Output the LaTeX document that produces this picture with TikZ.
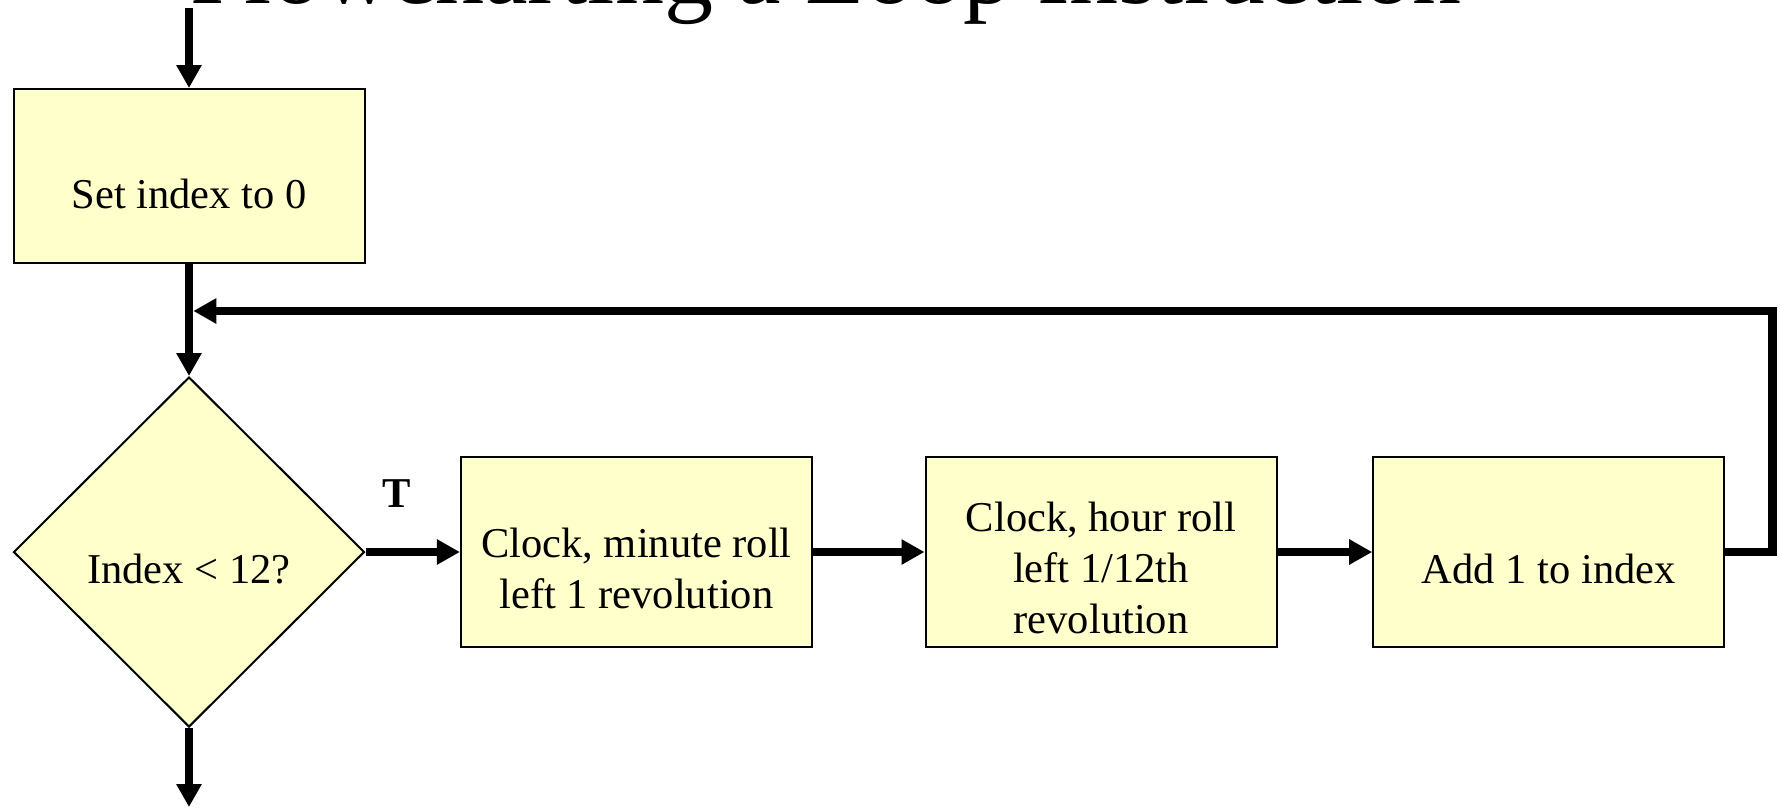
\documentclass[tikz,border=0pt]{standalone}
\usepackage{fontspec}
\setmainfont{Liberation Serif}
\usetikzlibrary{arrows.meta,shapes.geometric,calc}
\definecolor{boxfill}{HTML}{FFFFCC}

\begin{document}
\begin{tikzpicture}[x=1pt,y=-1pt,
  flow/.style={line width=8.5pt, -{Triangle[length=23pt,width=24pt]}},
  boxnode/.style={draw=black, line width=2pt, fill=boxfill, rectangle,
    minimum width=351pt, inner sep=0pt},
  decision/.style={draw=black, line width=2pt, fill=boxfill, diamond,
    minimum width=351pt, minimum height=350pt, inner sep=0pt},
  txt/.style={font=\fontsize{42.5}{51}\selectfont, align=center, anchor=base, inner sep=0pt},
  titletxt/.style={font=\fontsize{98}{104}\selectfont, anchor=base, inner sep=0pt}
]
\useasboundingbox (0,0) rectangle (1780,807);
\fill[white] (0,0) rectangle (1780,807);
\begin{scope}
\clip (0,0) rectangle (1780,807);

% heading, mostly above the frame
\node[titletxt] (title) at (826,3) {Flowcharting a Loop Instruction};

% shapes
\node[boxnode, minimum height=174pt] (set) at (189,176) {};
\node[decision] (dia) at (189,552) {};
\node[boxnode, minimum height=190pt] (minroll) at (636.4,552) {};
\node[boxnode, minimum height=190pt] (hourroll) at (1101,552) {};
\node[boxnode, minimum height=190pt] (add) at (1548.7,552) {};

% texts (base anchor sits on the last line)
\node[txt] (tset) at ($(set.center)+(0,32)$) {Set index to 0};
\node[txt] (tdia) at ($(dia.center)+(0,31)$) {Index < 12?};
\node[txt] (tmin) at ($(minroll.center)+(0,56)$) {Clock, minute roll\\left 1 revolution};
\node[txt] (thour) at ($(hourroll.center)+(0,81)$) {Clock, hour roll\\left 1/12th\\revolution};
\node[txt] (tadd) at ($(add.center)+(0,31)$) {Add 1 to index};
\node[txt, font=\fontsize{42.5}{51}\selectfont\bfseries] (tlab) at (397,507) {T};

% connectors
\coordinate (entry) at (189,8);
\coordinate (exit) at (189,807);
\coordinate (rtop) at (1772.5,311);
\coordinate (join) at (193.3,311);

\draw[flow] (entry) -- (set.north);
\draw[flow] (set.south) -- (dia.north);
\draw[flow] (dia.east) -- (minroll.west);
\draw[flow] (minroll.east) -- (hourroll.west);
\draw[flow] (hourroll.east) -- (add.west);
\draw[flow] (add.east) -| (rtop) -- (join);
\draw[flow] (dia.south) -- (exit);
\end{scope}
\end{tikzpicture}
\end{document}
